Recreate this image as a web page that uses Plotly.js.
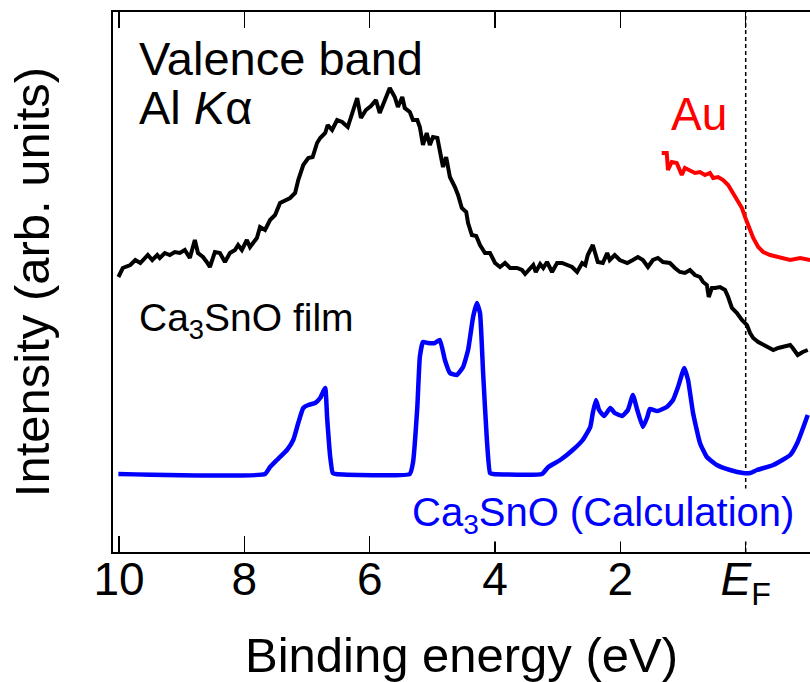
<!DOCTYPE html>
<html>
<head>
<meta charset="utf-8">
<script src="https://cdn.plot.ly/plotly-3.0.1.min.js"></script>
<style>html,body{margin:0;padding:0;background:#fff;}#chart{width:810px;height:682px;}</style>
</head>
<body>
<div id="chart"></div>
<script>
// Measured Ca3SnO film valence band (binding energy eV, intensity arb. units)
const filmE = [10.01,9.94,9.82,9.74,9.66,9.62,9.54,9.47,9.39,9.35,9.27,9.19,9.11,9.03,8.95,8.87,8.79,8.74,8.66,8.60,8.55,8.47,8.39,8.31,8.23,8.15,8.10,8.04,7.96,7.91,7.80,7.75,7.67,7.59,7.51,7.43,7.35,7.27,7.19,7.14,7.06,6.98,6.91,6.84,6.79,6.71,6.67,6.60,6.52,6.44,6.35,6.27,6.20,6.14,6.06,5.98,5.90,5.84,5.76,5.68,5.60,5.55,5.48,5.44,5.36,5.31,5.24,5.20,5.15,5.09,5.04,4.99,4.92,4.88,4.83,4.78,4.75,4.72,4.64,4.59,4.53,4.46,4.43,4.37,4.30,4.24,4.16,4.08,4.00,3.92,3.84,3.76,3.65,3.57,3.52,3.44,3.39,3.35,3.28,3.23,3.17,3.09,3.01,2.93,2.85,2.77,2.69,2.61,2.56,2.52,2.44,2.36,2.28,2.21,2.17,2.09,2.01,1.89,1.80,1.72,1.64,1.56,1.48,1.40,1.32,1.21,1.13,1.05,0.97,0.89,0.81,0.73,0.68,0.62,0.59,0.54,0.49,0.41,0.33,0.28,0.22,0.14,0.06,-0.02,-0.07,-0.12,-0.20,-0.28,-0.36,-0.44,-0.52,-0.60,-0.71,-0.75,-0.83,-0.91,-0.99];
const filmI = [275,284,287,292,289,292,297,292,297,294,299,297,300,299,302,294,312,299,295,290,285,300,299,290,299,302,307,302,312,305,314,325,322,332,337,349,352,354,359,372,387,394,395,409,414,419,427,422,432,430,425,442,454,434,442,446,452,439,452,464,455,445,455,444,440,432,432,425,407,419,407,415,414,400,385,395,385,375,365,357,344,340,329,317,316,307,299,299,289,285,289,284,284,282,278,284,287,280,288,284,290,280,289,289,287,285,280,289,287,297,307,290,289,299,292,297,292,289,292,295,292,285,292,294,290,289,284,280,279,282,277,275,270,267,255,264,264,265,262,255,244,239,232,227,219,214,210,207,205,202,204,205,207,204,197,200,202];

// Au reference (Fermi edge)
const auE = [1.34,1.26,1.24,1.18,1.10,1.02,0.97,0.89,0.81,0.73,0.65,0.57,0.52,0.44,0.36,0.28,0.20,0.12,0.06,0.01,-0.04,-0.12,-0.20,-0.28,-0.39,-0.55,-0.71,-0.87,-1.03];
const auI = [399,399,382,390,389,377,384,382,379,380,377,379,374,375,372,367,359,350,344,335,327,314,305,300,297,294,292,294,292];

// Calculated Ca3SnO DOS
const calcE = [10.01,7.67,7.59,7.48,7.32,7.22,7.14,7.06,6.98,6.87,6.79,6.71,6.68,6.63,6.59,6.54,5.36,5.31,5.24,5.20,5.15,5.07,4.96,4.88,4.80,4.72,4.61,4.51,4.43,4.35,4.29,4.24,4.19,4.13,4.08,4.03,3.25,3.15,2.96,2.76,2.60,2.48,2.44,2.39,2.34,2.26,2.16,2.09,1.97,1.88,1.80,1.73,1.64,1.57,1.53,1.41,1.26,1.16,1.08,0.98,0.92,0.84,0.73,0.62,0.46,0.25,0.04,-0.07,-0.18,-0.44,-0.71,-0.83,-0.99];
const calcI = [78,78,85,92,102,112,129,144,147,149,154,164,135,95,79,78,78,89,145,195,210,209,209,212,192,179,177,185,202,235,249,239,179,112,79,78,78,85,92,102,112,125,139,152,142,136,144,139,136,142,157,142,125,135,143,141,145,152,165,184,172,139,109,95,87,82,79,79,82,87,97,110,137];

const tickVals = [10,8,6,4,2,0];
const tickText = ['10','8','6','4','2','<i>E</i><sub>F</sub>'];

const FONT = 'Liberation Sans, Arial, Helvetica, sans-serif';

const traces = [
  {x: filmE, y: filmI, type: 'scatter', mode: 'lines', line: {color: '#000000', width: 4}, hoverinfo: 'skip'},
  {x: auE, y: auI, type: 'scatter', mode: 'lines', line: {color: '#ff0000', width: 4}, hoverinfo: 'skip'},
  {x: calcE, y: calcI, type: 'scatter', mode: 'lines', line: {color: '#0000ff', width: 4.5, shape: 'spline', smoothing: 0.4}, hoverinfo: 'skip'}
];

const layout = {
  width: 810, height: 682,
  margin: {l: 113, r: 0, t: 12, b: 130},
  paper_bgcolor: '#ffffff', plot_bgcolor: '#ffffff',
  showlegend: false,
  font: {family: FONT, color: '#000000'},
  xaxis: {
    range: [10.096, -1.026],
    tickvals: tickVals, ticktext: tickText,
    ticks: 'inside', ticklen: 16, tickwidth: 1.5, tickcolor: '#000',
    ticklabelstandoff: -14,
    showline: true, linewidth: 2, linecolor: '#000', mirror: 'allticks',
    showgrid: false, zeroline: false,
    tickfont: {size: 46, family: FONT},
    title: {text: 'Binding energy (eV)', font: {size: 49, family: FONT}, standoff: 36}
  },
  yaxis: {
    range: [0, 540],
    showticklabels: false, ticks: '',
    showline: true, linewidth: 2, linecolor: '#000', mirror: false,
    showgrid: false, zeroline: false,
    title: {text: 'Intensity (arb. units)', font: {size: 49, family: FONT}, standoff: 46}
  },
  shapes: [
    {type: 'line', xref: 'x', yref: 'paper', x0: 0, x1: 0, y0: 0, y1: 1,
     line: {color: '#000', width: 1.5, dash: '4px,3px'}, layer: 'below'}
  ],
  annotations: [
    {xref: 'x', yref: 'y', x: 9.71, y: 494, xanchor: 'left', yanchor: 'middle', showarrow: false,
     text: 'Valence band', font: {size: 47, family: FONT, color: '#000'}},
    {xref: 'x', yref: 'y', x: 9.71, y: 445, xanchor: 'left', yanchor: 'middle', showarrow: false,
     text: 'Al <i>K</i>α', font: {size: 47, family: FONT, color: '#000'}},
    {xref: 'x', yref: 'y', x: 1.22, y: 438, xanchor: 'left', yanchor: 'middle', showarrow: false,
     text: 'Au', font: {size: 46, family: FONT, color: '#ff0000'}},
    {xref: 'x', yref: 'y', x: 9.71, y: 232, xanchor: 'left', yanchor: 'middle', showarrow: false,
     text: 'Ca<sub>3</sub>SnO film', font: {size: 39, family: FONT, color: '#000'}},
    {xref: 'x', yref: 'y', x: 5.36, y: 37, xanchor: 'left', yanchor: 'middle', showarrow: false,
     text: 'Ca<sub>3</sub>SnO (Calculation)', font: {size: 40, family: FONT, color: '#0000ff'},
     bgcolor: '#ffffff'}
  ]
};

Plotly.newPlot('chart', traces, layout, {displayModeBar: false, staticPlot: true});
</script>
</body>
</html>
